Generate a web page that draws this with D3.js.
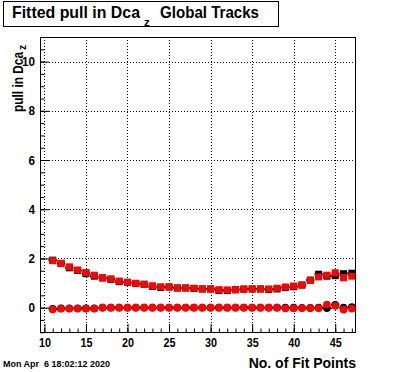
<!DOCTYPE html>
<html><head><meta charset="utf-8">
<script src="https://cdn.jsdelivr.net/npm/d3@7"></script>
<style>body{margin:0;background:#fff}svg{display:block}text{font-family:"Liberation Sans",Arial,Helvetica,sans-serif}</style>
</head><body>
<script>
const titleMain = "Fitted pull in Dca";
const titleSub = "z";
const titleRest = "Global Tracks";
const xLabel = "No. of Fit Points";
const yLabel = "pull in Dca";
const ySub = "z";
const dateText = "Mon Apr  6 18:02:12 2020";
const xTicks = [10, 15, 20, 25, 30, 35, 40, 45];
const yTicks = [0, 2, 4, 6, 8, 10];
const fitPoints = [11,12,13,14,15,16,17,18,19,20,21,22,23,24,25,26,27,28,29,30,31,32,33,34,35,36,37,38,39,40,41,42,43,44,45,46,47];
const sigmaRed = [1.91,1.80,1.66,1.53,1.43,1.32,1.21,1.17,1.08,1.03,0.99,0.95,0.89,0.85,0.84,0.80,0.80,0.79,0.76,0.76,0.73,0.72,0.73,0.76,0.76,0.76,0.76,0.79,0.84,0.88,0.92,1.11,1.25,1.32,1.42,1.22,1.28];
const sigmaBlack = [1.93,1.80,1.62,1.51,1.38,1.28,1.21,1.15,1.06,1.03,0.98,0.95,0.86,0.82,0.84,0.80,0.80,0.78,0.76,0.76,0.70,0.70,0.73,0.75,0.76,0.76,0.74,0.76,0.82,0.85,0.92,1.12,1.36,1.28,1.30,1.38,1.40];
const meanRed = [-0.07,-0.04,-0.04,-0.04,-0.04,-0.04,0.00,0.00,0.00,0.00,0.00,0.00,0.00,0.00,0.00,0.00,0.00,0.00,0.00,0.00,0.00,0.00,0.00,0.00,0.00,0.00,0.00,0.00,-0.03,-0.03,-0.02,-0.02,-0.02,0.13,0.07,-0.08,-0.04];
const meanBlack = [-0.05,-0.03,-0.03,-0.03,-0.03,-0.03,0.00,0.00,0.00,0.00,0.00,0.00,0.00,0.00,0.00,0.00,0.00,0.00,0.00,0.00,0.00,0.00,0.00,0.00,0.00,0.00,0.00,0.00,0.00,0.00,-0.01,-0.01,0.00,-0.02,0.12,0.00,0.02];

const W = 396, H = 372;
const L = 40, R = 356, T = 37, B = 333;
const svg = d3.select("body").append("svg").attr("width", W).attr("height", H);
svg.append("rect").attr("width", W).attr("height", H).attr("fill", "#fff");

const x = d3.scaleLinear().domain([9.47, 47.5]).range([L, R]);
const y = d3.scaleLinear().domain([-1.03, 11.0]).range([B, T]);

// grid
const g = svg.append("g");
g.selectAll(".gx").data(xTicks).enter().append("line")
  .attr("x1", d => Math.round(x(d)) + 0.5).attr("x2", d => Math.round(x(d)) + 0.5)
  .attr("y1", T).attr("y2", B).attr("stroke", "#000").attr("stroke-dasharray", "1,2");
g.selectAll(".gy").data(yTicks).enter().append("line")
  .attr("y1", d => Math.round(y(d)) + 0.5).attr("y2", d => Math.round(y(d)) + 0.5)
  .attr("x1", L).attr("x2", R).attr("stroke", "#000").attr("stroke-dasharray", "1,2");

// axes (ticks inside)
const xMinor = d3.range(10, 48, 1);
const yMinor = d3.range(-1, 11.01, 0.5);
svg.append("g").attr("transform", `translate(0,${B})`)
  .call(d3.axisTop(x).tickValues(xMinor).tickSize(4.5).tickFormat("")).select(".domain").remove();
svg.append("g").attr("transform", `translate(0,${B})`)
  .call(d3.axisTop(x).tickValues(xTicks).tickSize(9).tickFormat("")).select(".domain").remove();
const xAxM = svg.append("g").attr("transform", `translate(0,${B})`)
  .call(d3.axisBottom(x).tickValues(xTicks).tickSize(0).tickPadding(5).tickFormat(d3.format("d")));
xAxM.select(".domain").remove();
xAxM.selectAll("text").attr("font-size", 13).attr("font-weight", "bold").attr("fill", "#000")
  .attr("dy", "0.71em").attr("textLength", d => d < 10 ? 6.5 : 12).attr("lengthAdjust", "spacingAndGlyphs");

svg.append("g").attr("transform", `translate(${L},0)`)
  .call(d3.axisRight(y).tickValues(yMinor).tickSize(4.5).tickFormat("")).select(".domain").remove();
svg.append("g").attr("transform", `translate(${L},0)`)
  .call(d3.axisRight(y).tickValues(yTicks).tickSize(9).tickFormat("")).select(".domain").remove();
const yAxM = svg.append("g").attr("transform", `translate(${L},0)`)
  .call(d3.axisLeft(y).tickValues(yTicks).tickSize(0).tickPadding(5).tickFormat(d3.format("d")));
yAxM.select(".domain").remove();
yAxM.selectAll("text").attr("font-size", 13).attr("font-weight", "bold").attr("fill", "#000")
  .attr("textLength", d => d < 10 ? 6.5 : 13).attr("lengthAdjust", "spacingAndGlyphs");
svg.selectAll(".tick line").attr("stroke", "#000");

// frame
svg.append("rect").attr("x", L + 0.5).attr("y", T + 0.5).attr("width", R - L - 1).attr("height", B - T - 1)
  .attr("fill", "none").attr("stroke", "#000").attr("stroke-width", 1);

// data
const plot = svg.append("g");
const sq = 7, cr = 3.8;
function errBars(vals) {
  plot.selectAll(null).data(fitPoints).enter().append("line")
    .attr("x1", (d) => x(d - 0.5)).attr("x2", (d) => x(d + 0.5))
    .attr("y1", (d, i) => y(vals[i])).attr("y2", (d, i) => y(vals[i]))
    .attr("stroke", "#000").attr("stroke-width", 2);
}
errBars(sigmaBlack);
errBars(meanBlack);
plot.selectAll(null).data(fitPoints).enter().append("rect")
  .attr("x", d => x(d) - sq / 2).attr("y", (d, i) => y(sigmaBlack[i]) - sq / 2)
  .attr("width", sq).attr("height", sq).attr("fill", "#000");
plot.selectAll(null).data(fitPoints).enter().append("circle")
  .attr("cx", d => x(d)).attr("cy", (d, i) => y(meanBlack[i])).attr("r", cr).attr("fill", "#000");
plot.selectAll(null).data(fitPoints).enter().append("rect")
  .attr("x", d => x(d) - sq / 2).attr("y", (d, i) => y(sigmaRed[i]) - sq / 2)
  .attr("width", sq).attr("height", sq).attr("fill", "#f00");
plot.selectAll(null).data(fitPoints).enter().append("circle")
  .attr("cx", d => x(d)).attr("cy", (d, i) => y(meanRed[i])).attr("r", cr).attr("fill", "#f00");

// title box
svg.append("rect").attr("x", 3.5).attr("y", 1.5).attr("width", 275).attr("height", 25)
  .attr("fill", "#fff").attr("stroke", "#000");
svg.append("text").attr("x", 12).attr("y", 17.5).attr("font-size", 16.5).attr("font-weight", "bold")
  .attr("textLength", 128).attr("lengthAdjust", "spacingAndGlyphs").text(titleMain);
svg.append("text").attr("x", 144).attr("y", 25.5).attr("font-size", 11.5).attr("font-weight", "bold").text(titleSub);
svg.append("text").attr("x", 160).attr("y", 17.5).attr("font-size", 16.5).attr("font-weight", "bold")
  .attr("textLength", 99).attr("lengthAdjust", "spacingAndGlyphs").text(titleRest);

// y label
svg.append("text").attr("transform", "translate(22.5,112) rotate(-90)")
  .attr("font-size", 15).attr("font-weight", "bold")
  .attr("textLength", 60).attr("lengthAdjust", "spacingAndGlyphs").text(yLabel);
svg.append("text").attr("transform", "translate(25.5,50) rotate(-90)")
  .attr("font-size", 10.5).attr("font-weight", "bold").text(ySub);

// x label
svg.append("text").attr("x", 356).attr("y", 368).attr("text-anchor", "end")
  .attr("font-size", 14).attr("font-weight", "bold").text(xLabel);

// date
svg.append("text").attr("x", 3).attr("y", 367).attr("font-size", 9).attr("font-weight", "bold")
  .style("white-space", "pre").attr("textLength", 107).attr("lengthAdjust", "spacingAndGlyphs").text(dateText);
</script>
</body></html>
